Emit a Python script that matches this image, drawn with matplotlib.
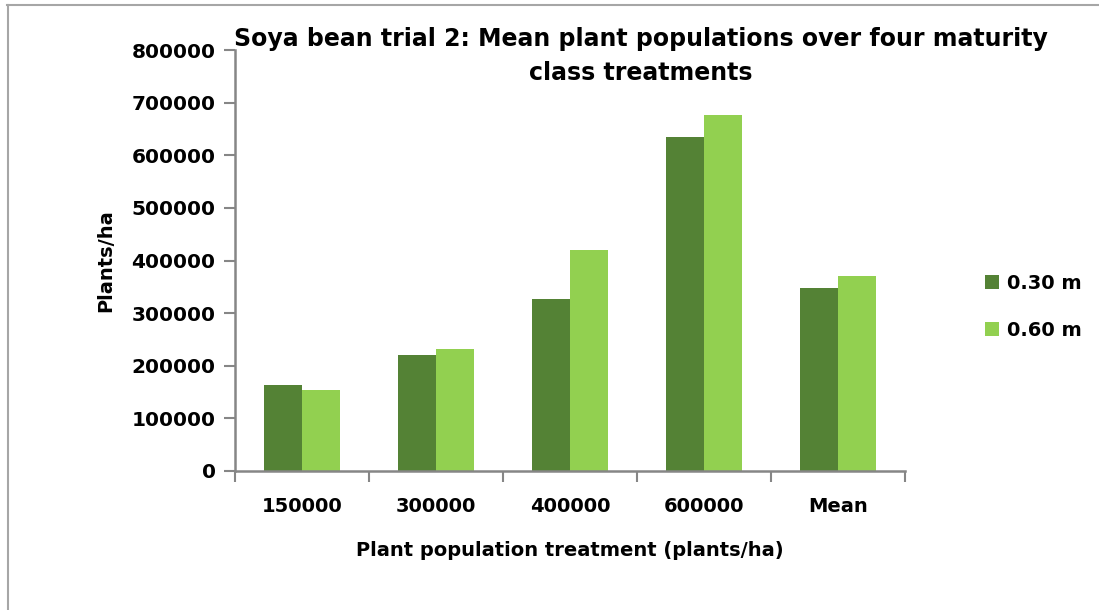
import matplotlib

matplotlib.use("Agg")
import matplotlib.pyplot as plt
import numpy as np
from matplotlib.lines import Line2D

# ---- data -----------------------------------------------------------------
categories = ["150000", "300000", "400000", "600000", "Mean"]
row_030 = [164000, 221000, 327000, 634000, 348000]
row_060 = [153000, 232000, 420000, 676000, 370000]
series_names = ["0.30 m", "0.60 m"]
yticks = [0, 100000, 200000, 300000, 400000, 500000, 600000, 700000, 800000]

DARK, LIGHT, AXIS = "#548235", "#92D050", "#868686"
FONT = dict(family="DejaVu Sans", weight="bold")

fig = plt.figure(figsize=(10.99, 6.10), dpi=100)
ax = fig.add_axes([235 / 1099, 1 - 471 / 610, 670 / 1099, 421 / 610])

x = np.arange(len(categories))
w = 0.287
ax.bar(x - w / 2, row_030, w, color=DARK, label=series_names[0])
ax.bar(x + w / 2, row_060, w, color=LIGHT, label=series_names[1])

ax.set_xlim(-0.5, len(categories) - 0.5)
ax.set_ylim(0, 800000)
ax.set_yticks(yticks)
ax.set_yticklabels([str(v) for v in yticks], fontsize=14.5, **FONT)
ax.set_xticks(x)
ax.set_xticklabels(categories, fontsize=14, **FONT)
ax.tick_params(axis="x", length=0, pad=19)
ax.set_xticks(np.arange(len(categories) + 1) - 0.5, minor=True)
ax.tick_params(axis="x", which="minor", length=8, width=1.5, color=AXIS)
ax.tick_params(axis="y", length=8, width=1.5, color=AXIS, pad=6)

for s in ("top", "right"):
    ax.spines[s].set_visible(False)
for s in ("left", "bottom"):
    ax.spines[s].set_color(AXIS)
    ax.spines[s].set_linewidth(1.8)

ax.set_ylabel("Plants/ha", fontsize=14, labelpad=12, **FONT)
ax.set_xlabel("Plant population treatment (plants/ha)", fontsize=14, labelpad=18, **FONT)

fig.text(641 / 1099, 1 - 56 / 610,
         "Soya bean trial 2: Mean plant populations over four maturity\nclass treatments",
         ha="center", va="center", fontsize=17, linespacing=1.5, **FONT)

leg = ax.legend(loc="center left", bbox_to_anchor=(1.093, 0.39), frameon=False,
                prop=dict(family="DejaVu Sans", weight="bold", size=14),
                handlelength=0.75, handleheight=0.75, handletextpad=0.4, labelspacing=1.45)

# chart-area border (only top and left edges are in view)
fig.add_artist(Line2D([7 / 1099, 1], [1 - 5 / 610] * 2, color="#a6a6a6", lw=1.5))
fig.add_artist(Line2D([7.5 / 1099] * 2, [0, 1 - 5 / 610], color="#a6a6a6", lw=1.5))

fig.savefig("out.png", dpi=100)
